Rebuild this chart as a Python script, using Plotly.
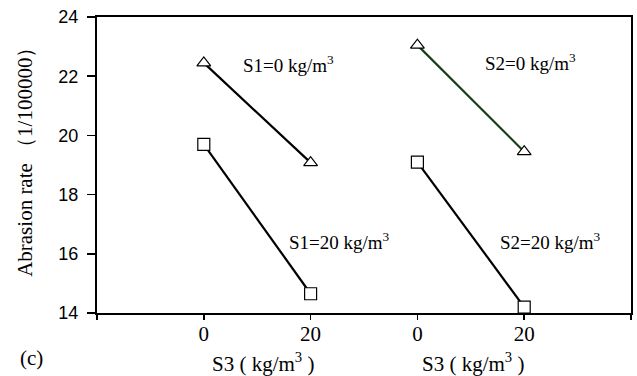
import plotly.graph_objects as go

# ---- data ----
s3_levels = [0, 20]                 # S3 (kg/m3)
s1_0_rate = [22.45, 19.08]          # S1 = 0 kg/m3
s1_20_rate = [19.7, 14.65]          # S1 = 20 kg/m3
s2_0_rate = [23.05, 19.45]          # S2 = 0 kg/m3
s2_20_rate = [19.1, 14.2]           # S2 = 20 kg/m3
x_tick_labels = ["", "0", "20", "0", "20", ""]

SERIF = "Liberation Serif, Times New Roman, serif"
SANS = "Liberation Sans, Arial, sans-serif"


def panel_x(panel, values):
    # panel 0 -> S1 group, panel 1 -> S2 group
    return [1 + 2 * panel + v / 20 for v in values]


fig = go.Figure()

series = [
    (0, s1_0_rate, "triangle-up", "black"),
    (0, s1_20_rate, "square", "black"),
    (1, s2_0_rate, "triangle-up", "#17401a"),
    (1, s2_20_rate, "square", "black"),
]
for panel, vals, sym, col in series:
    fig.add_trace(go.Scatter(
        x=panel_x(panel, s3_levels), y=vals,
        mode="lines+markers",
        line=dict(color=col, width=2.2),
        marker=dict(symbol=sym, size=12, color="white",
                    line=dict(color="black", width=1.2)),
        showlegend=False, cliponaxis=False, hoverinfo="skip",
    ))

labels = [
    (1.79, 22.42, "S1=0 kg/m<sup>3</sup>"),
    (4.06, 22.48, "S2=0 kg/m<sup>3</sup>"),
    (2.27, 16.42, "S1=20 kg/m<sup>3</sup>"),
    (4.25, 16.42, "S2=20 kg/m<sup>3</sup>"),
]
for x, y, t in labels:
    fig.add_annotation(x=x, y=y, xref="x", yref="y", text=t, showarrow=False,
                       font=dict(family=SERIF, size=19, color="black"),
                       xanchor="center", yanchor="middle")

# x axis titles under each group
for xc in [1.55, 3.52]:
    fig.add_annotation(x=xc, y=-0.166, xref="x", yref="paper",
                       text="S3 ( kg/m<sup>3</sup> )", showarrow=False,
                       font=dict(family=SERIF, size=21, color="black"),
                       xanchor="center", yanchor="middle")

fig.add_annotation(x=-0.123, y=-0.152, xref="paper", yref="paper",
                   text="(c)", showarrow=False,
                   font=dict(family=SERIF, size=21, color="black"),
                   xanchor="center", yanchor="middle")

fig.add_annotation(x=-0.134, y=0.529, xref="paper", yref="paper",
                   text="Abrasion rate （1/100000）", showarrow=False,
                   textangle=-90,
                   font=dict(family=SERIF, size=21, color="black"),
                   xanchor="center", yanchor="middle")

fig.update_xaxes(range=[0, 5], tickmode="array", tickvals=[0, 1, 2, 3, 4, 5],
                 ticktext=x_tick_labels, ticks="outside", ticklen=5,
                 tickwidth=1.5, tickcolor="black", ticklabelstandoff=-4,
                 showline=True, linecolor="black", linewidth=2, mirror=True,
                 showgrid=False, zeroline=False,
                 tickfont=dict(family=SERIF, size=21, color="black"))
fig.update_yaxes(range=[14, 24], tickmode="array", tickvals=[14, 16, 18, 20, 22, 24],
                 ticks="outside", ticklen=8, tickwidth=1.5, tickcolor="black",
                 ticklabelstandoff=5,
                 showline=True, linecolor="black", linewidth=2, mirror=True,
                 showgrid=False, zeroline=False,
                 tickfont=dict(family=SANS, size=18, color="black"))

fig.update_layout(width=637, height=376,
                  margin=dict(l=97, r=4, t=17, b=63),
                  paper_bgcolor="white", plot_bgcolor="white",
                  hovermode=False)

fig.write_html("out.html",
               config={"displayModeBar": False, "staticPlot": True},
               post_script="document.body.style.margin='0px';"
                           "document.body.style.overflow='hidden';")
